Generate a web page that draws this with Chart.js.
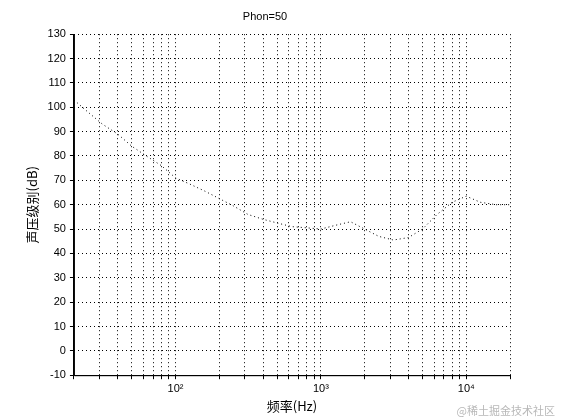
<!DOCTYPE html>
<html>
<head>
<meta charset="utf-8">
<script src="https://cdn.jsdelivr.net/npm/chart.js@4"></script>
<style>
  body { margin: 0; background: #fff; }
  #wrap { position: relative; width: 561px; height: 420px; }
  #mark { position: absolute; right: 6px; bottom: 2px; font: 11px "Noto Sans CJK SC"; color: #b8b8b8; }
</style>
</head>
<body>
<div id="wrap">
  <canvas id="phonChart" width="561" height="420"></canvas>
  <div id="mark">@稀土掘金技术社区</div>
</div>
<script>
// Frequencies (Hz) and sound pressure level (dB) for the 50 phon contour
const freqs = [20, 25, 31.5, 40, 50, 63, 80, 100, 125, 160, 200, 250, 315, 400, 500, 630, 800,
  1000, 1250, 1600, 2000, 2500, 3150, 4000, 5000, 6300, 8000, 10000, 12500, 16000, 20000];
const levels = [103, 98, 93, 89, 84, 80, 76, 71, 68.5, 65.5, 62.5, 59.5, 56, 54, 52.5, 51, 50.5,
  50, 51.5, 53, 50, 47, 45.5, 46.5, 50, 56, 61, 63.5, 61, 60, 60];
const yTicks = [-10, 0, 10, 20, 30, 40, 50, 60, 70, 80, 90, 100, 110, 120, 130];
const xTickLabels = { 100: "10²", 1000: "10³", 10000: "10⁴" };

const ctx = document.getElementById("phonChart").getContext("2d");
Chart.defaults.font.family = "Liberation Sans";
Chart.defaults.color = "#000";

// solid axis lines on left and bottom (grid itself is dotted)
const axisLines = {
  id: "axisLines",
  afterDraw: (chart) => {
    const a = chart.chartArea;
    const c = chart.ctx;
    c.save();
    c.strokeStyle = "#000";
    c.lineWidth = 1;
    c.setLineDash([]);
    c.beginPath();
    c.moveTo(a.left + 0.5, a.top);
    c.lineTo(a.left + 0.5, a.bottom + 0.5);
    c.lineTo(a.right, a.bottom + 0.5);
    c.stroke();
    c.restore();
  },
};

new Chart(ctx, {
  type: "line",
  data: {
    datasets: [{
      data: freqs.map((f, i) => ({ x: f, y: levels[i] })),
      borderColor: "#000",
      borderWidth: 1,
      borderDash: [1, 3],
      pointRadius: 0,
      tension: 0,
    }],
  },
  options: {
    responsive: false,
    animation: false,
    layout: { padding: { top: 6, right: 51, bottom: 2, left: 20 } },
    plugins: {
      legend: { display: false },
      tooltip: { enabled: false },
      title: { display: true, text: "Phon=50", font: { size: 11, weight: "normal" }, padding: { top: 4, bottom: 11 } },
    },
    scales: {
      x: {
        type: "logarithmic",
        min: 20,
        max: 20000,
        afterBuildTicks: (axis) => {
          const t = [];
          [10, 100, 1000, 10000].forEach((d) => {
            for (let k = 1; k < 10; k++) {
              const v = d * k;
              if (v >= 20 && v <= 20000) t.push({ value: v });
            }
          });
          axis.ticks = t;
        },
        ticks: {
          autoSkip: false,
          maxRotation: 0,
          font: { size: 11 },
          callback: (v) => xTickLabels[v] || "",
        },
        grid: { color: "#000", tickLength: 4, tickBorderDash: [] },
        border: { color: "#000", dash: [1, 3] },
        title: { display: true, text: "频率(Hz)", font: { size: 13, family: "Noto Sans CJK SC" }, padding: { top: 0 } },
      },
      y: {
        min: -10,
        max: 130,
        afterBuildTicks: (axis) => { axis.ticks = yTicks.map((v) => ({ value: v })); },
        ticks: { font: { size: 11 }, padding: 4 },
        grid: { color: "#000", tickLength: 4, tickBorderDash: [] },
        border: { color: "#000", dash: [1, 3] },
        title: { display: true, text: "声压级别(dB)", font: { size: 13, family: "Noto Sans CJK SC" }, padding: { bottom: 4 } },
      },
    },
  },
  plugins: [axisLines],
});
</script>
</body>
</html>
